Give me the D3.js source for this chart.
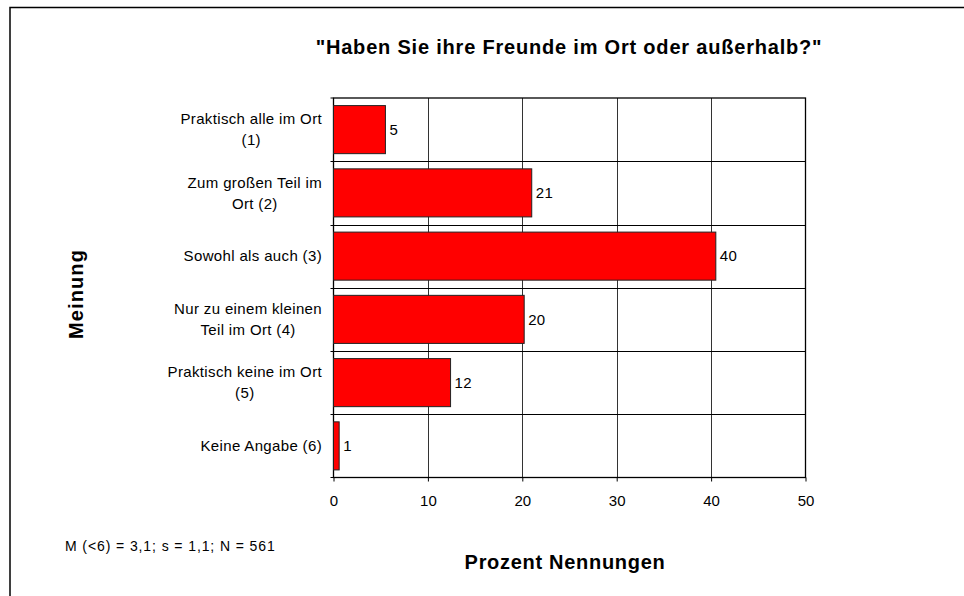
<!DOCTYPE html>
<html>
<head>
<meta charset="utf-8">
<script src="https://cdn.jsdelivr.net/npm/d3@7"></script>
<style>
  body { margin: 0; background: #fff; }
  text { font-family: Arial, "Liberation Sans", sans-serif; fill: #000; }
</style>
</head>
<body>
<script>
// answers (each one split into display lines), percent values and labels
var categories = [
  ["Praktisch alle im Ort", "(1)"],
  ["Zum großen Teil im", "Ort (2)"],
  ["Sowohl als auch (3)"],
  ["Nur zu einem kleinen", "Teil im Ort (4)"],
  ["Praktisch keine im Ort", "(5)"],
  ["Keine Angabe (6)"]
];
var values = [5.5, 21.0, 40.5, 20.2, 12.4, 0.6];
var valueLabels = ["5", "21", "40", "20", "12", "1"];
var xTicks = [0, 10, 20, 30, 40, 50];

var width = 964, height = 596;
var plot = {left: 333.5, right: 805.5, top: 98, bottom: 477.5};

var svg = d3.select("body").append("svg")
    .attr("width", width)
    .attr("height", height);

// outer frame (only left and top edge are inside the picture)
svg.append("path")
    .attr("d", "M10,600V7.5H970")
    .attr("fill", "none")
    .attr("stroke", "#000")
    .attr("stroke-width", 1.5);

var x = d3.scaleLinear().domain([0, 50]).range([plot.left, plot.right]);
var y = d3.scaleBand()
    .domain(d3.range(categories.length))
    .range([plot.top, plot.bottom])
    .paddingInner(0.24)
    .paddingOuter(0.12);

var step = y.step();

// vertical grid lines
svg.append("g").selectAll("line")
    .data(xTicks.slice(1, -1))
    .enter().append("line")
    .attr("x1", function(d) { return Math.round(x(d)) + 0.5; })
    .attr("x2", function(d) { return Math.round(x(d)) + 0.5; })
    .attr("y1", plot.top)
    .attr("y2", plot.bottom)
    .attr("stroke", "#333")
    .attr("stroke-width", 1);

// horizontal separators between categories
svg.append("g").selectAll("line")
    .data(d3.range(1, categories.length))
    .enter().append("line")
    .attr("x1", plot.left - 3)
    .attr("x2", plot.right)
    .attr("y1", function(i) { return Math.round(plot.top + i * step) + 0.5; })
    .attr("y2", function(i) { return Math.round(plot.top + i * step) + 0.5; })
    .attr("stroke", "#000")
    .attr("stroke-width", 1);

// plot border
svg.append("rect")
    .attr("x", plot.left)
    .attr("y", plot.top)
    .attr("width", plot.right - plot.left)
    .attr("height", plot.bottom - plot.top)
    .attr("fill", "none")
    .attr("stroke", "#000")
    .attr("stroke-width", 1.3);

// left ticks at the top and bottom of the axis
svg.append("g").selectAll("line")
    .data([0, categories.length])
    .enter().append("line")
    .attr("x1", plot.left - 3)
    .attr("x2", plot.left)
    .attr("y1", function(i) { return plot.top + i * step; })
    .attr("y2", function(i) { return plot.top + i * step; })
    .attr("stroke", "#000");

// bars
svg.append("g").selectAll("rect")
    .data(values)
    .enter().append("rect")
    .attr("x", x(0))
    .attr("y", function(d, i) { return y(i); })
    .attr("width", function(d) { return x(d) - x(0); })
    .attr("height", y.bandwidth())
    .attr("fill", "#ff0000")
    .attr("stroke", "#222")
    .attr("stroke-width", 1);

// value labels
svg.append("g").selectAll("text")
    .data(values)
    .enter().append("text")
    .attr("x", function(d) { return x(d) + 4; })
    .attr("y", function(d, i) { return y(i) + y.bandwidth() / 2; })
    .attr("dy", "0.35em")
    .style("font-size", "15px")
    .style("letter-spacing", "0.3px")
    .text(function(d, i) { return valueLabels[i]; });

// x axis
var xAxis = d3.axisBottom(x).tickValues(xTicks).tickSize(4).tickPadding(14);
var gx = svg.append("g")
    .attr("transform", "translate(0," + plot.bottom + ")")
    .call(xAxis);
gx.select(".domain").remove();
gx.selectAll("line").attr("stroke", "#000");
gx.selectAll("text")
    .style("font-size", "15px")
    .style("font-family", "Arial, 'Liberation Sans', sans-serif")
    .attr("fill", "#000");

// category labels: block right-aligned, lines centred within the block
var labelRight = 322, lineHeight = 21;
var catG = svg.append("g")
    .style("font-size", "15px")
    .style("letter-spacing", "0.35px");
categories.forEach(function(lines, i) {
  var cy = y(i) + y.bandwidth() / 2;
  var t = catG.append("text").attr("text-anchor", "middle");
  var tspans = lines.map(function(l, j) {
    return t.append("tspan")
        .attr("y", cy + (j - (lines.length - 1) / 2) * lineHeight)
        .attr("dy", "0.35em")
        .text(l);
  });
  var maxW = d3.max(tspans, function(s) { return s.node().getComputedTextLength(); });
  tspans.forEach(function(s) { s.attr("x", labelRight - maxW / 2); });
});

// title
svg.append("text")
    .attr("x", 569)
    .attr("y", 54)
    .attr("text-anchor", "middle")
    .style("font-size", "20px")
    .style("letter-spacing", "0.8px")
    .style("font-weight", "bold")
    .text("\"Haben Sie ihre Freunde im Ort oder außerhalb?\"");

// axis titles
svg.append("text")
    .attr("x", 565)
    .attr("y", 569)
    .attr("text-anchor", "middle")
    .style("font-size", "20px")
    .style("letter-spacing", "0.7px")
    .style("font-weight", "bold")
    .text("Prozent Nennungen");

svg.append("text")
    .attr("transform", "translate(83,294)rotate(-90)")
    .attr("text-anchor", "middle")
    .style("font-size", "20px")
    .style("letter-spacing", "1.1px")
    .style("font-weight", "bold")
    .text("Meinung");

// statistics note
svg.append("text")
    .attr("x", 65)
    .attr("y", 551)
    .style("font-size", "14px")
    .style("letter-spacing", "0.9px")
    .text("M (<6) = 3,1; s = 1,1; N = 561");
</script>
</body>
</html>
